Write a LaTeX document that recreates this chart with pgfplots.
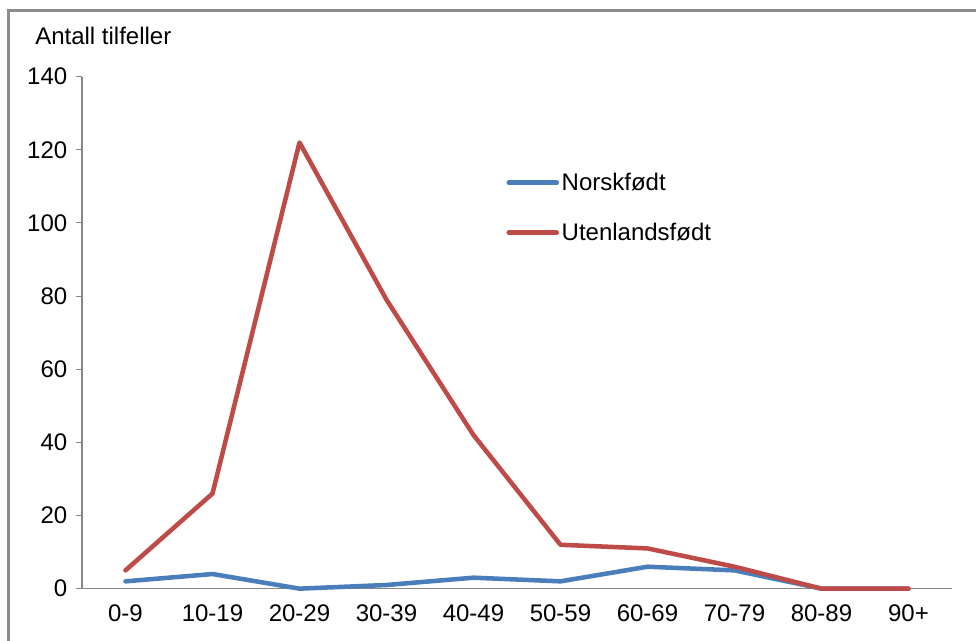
\documentclass[border=0pt]{standalone}
\usepackage{pgfplots}
\pgfplotsset{compat=1.18}
\usepackage{fontspec}
\setmainfont{Liberation Sans}

\definecolor{norskblue}{HTML}{4A7EBB}
\definecolor{utenred}{HTML}{BE4B48}
\definecolor{axisgray}{HTML}{868686}
\definecolor{framegray}{HTML}{8C8C8C}

\begin{document}
\begin{tikzpicture}
\useasboundingbox (-61.5pt,-39.2pt) rectangle (670.5pt,441.5pt);
% chart frame, top and left edges
\draw[framegray, line width=1.6pt] (-55.1pt,-45pt) -- (-55.1pt,433.6pt) -- (680pt,433.6pt);
\begin{axis}[
  at={(0pt,0pt)}, anchor=south west,
  scale only axis,
  width=652.5pt, height=384pt,
  xmin=-0.5, xmax=9.5,
  ymin=0, ymax=140,
  ytick={0,20,...,140},
  xtick={0,...,9},
  xticklabels={0-9,10-19,20-29,30-39,40-49,50-59,60-69,70-79,80-89,90+},
  extra x ticks={-0.5,0.5,...,9.5},
  extra x tick labels={},
  extra x tick style={major tick length=5pt, tick style={axisgray, line width=0.75pt}},
  axis x line*=bottom,
  axis y line*=left,
  axis line style={axisgray, line width=0.8pt, -},
  xtick style={draw=none},
  ytick style={axisgray, line width=0.75pt},
  tick align=outside,
  major tick length=4.5pt,
  tick label style={font=\fontsize{18}{21}\selectfont, text=black},
  yticklabel style={xshift=-3pt},
  xticklabel style={yshift=-4pt},
  /pgf/number format/assume math mode=true,
  legend style={draw=none, fill=none, at={(0.483,0.823)}, anchor=north west,
    font=\fontsize{18}{21}\selectfont, row sep=19pt,
    /tikz/every even column/.append style={column sep=0pt}},
  legend cell align=left,
  legend image code/.code={\draw[#1, line width=3.4pt, line cap=round] (0pt,0pt) -- (36pt,0pt);},
  clip=false,
]
\addplot[norskblue, line width=3.4pt, line join=round, line cap=round] coordinates {
  (0,2) (1,4) (2,0) (3,1) (4,3) (5,2) (6,6) (7,5) (8,0) (9,0)
};
\addlegendentry{Norskfødt}
\addplot[utenred, line width=3.4pt, line join=round, line cap=round] coordinates {
  (0,5) (1,26) (2,122) (3,79) (4,42) (5,12) (6,11) (7,6) (8,0) (9,0)
};
\addlegendentry{Utenlandsfødt}
\end{axis}
% axis title
\node[anchor=base west, font=\fontsize{18}{21}\selectfont, inner sep=0pt] at (-35.25pt,407.8pt) {Antall tilfeller};
\end{tikzpicture}
\end{document}
